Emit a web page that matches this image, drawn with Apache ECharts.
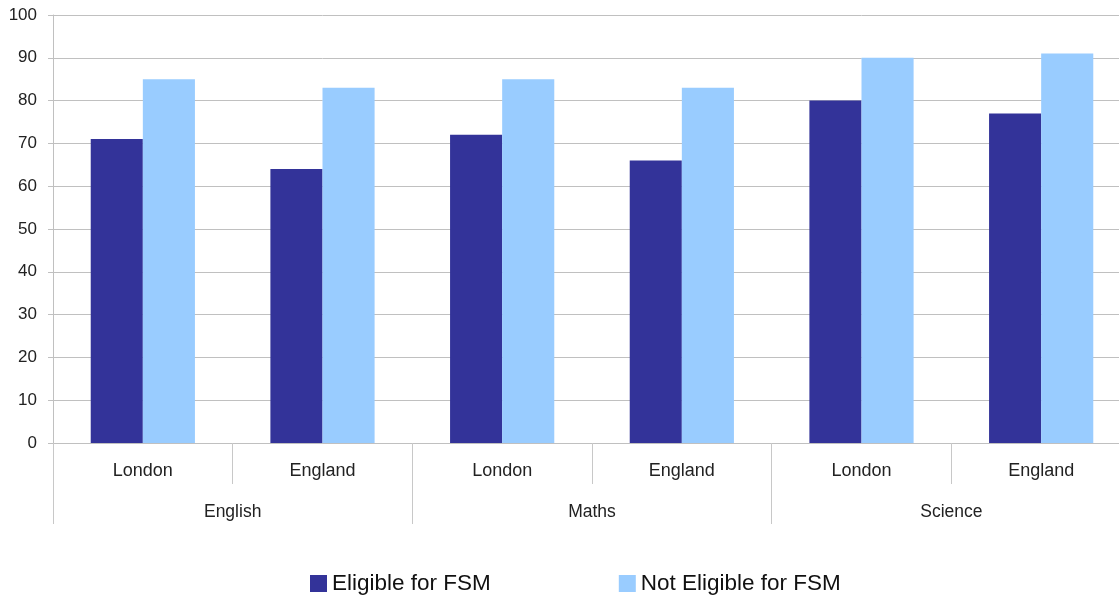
<!DOCTYPE html>
<html><head><meta charset="utf-8">
<script src="https://cdn.jsdelivr.net/npm/echarts@6/dist/echarts.min.js"></script>
<style>html,body{margin:0;padding:0;background:#fff;overflow:hidden;width:1119px;height:598px}#c{width:1131px;height:598px}</style>
</head><body><div id="c"></div>
<script>
const areas = ['London', 'England', 'London', 'England', 'London', 'England'];
const subjects = ['English', 'Maths', 'Science'];
const eligible = [71, 64, 72, 66, 80, 77];
const notEligible = [85, 83, 85, 83, 90, 91];
const yTicks = [0, 10, 20, 30, 40, 50, 60, 70, 80, 90, 100];

const FONT = 'Liberation Sans';
const chart = echarts.init(document.getElementById('c'));
chart.setOption({
  animation: false,
  textStyle: { fontFamily: FONT },
  grid: { left: 53, right: 0, top: 15, bottom: 155, containLabel: false },
  legend: {
    data: ['Eligible for FSM', 'Not Eligible for FSM'],
    left: 305, top: 567,
    itemWidth: 17, itemHeight: 17, itemGap: 128,
    icon: 'rect',
    textStyle: { fontSize: 22.5, color: '#111', fontFamily: FONT }
  },
  xAxis: [{
    type: 'category', data: areas, position: 'bottom',
    axisLine: { show: true, lineStyle: { color: '#c0c0c0' } },
    axisTick: { show: true, length: 41, interval: 0, alignWithLabel: false, lineStyle: { color: '#c8c8c8' } },
    axisLabel: { margin: 19, fontSize: 18, color: '#222', interval: 0 }
  }, {
    type: 'category', data: subjects, position: 'bottom', offset: 0,
    axisLine: { show: false },
    axisTick: { show: true, length: 81, interval: 0, alignWithLabel: false, lineStyle: { color: '#c8c8c8' } },
    axisLabel: { margin: 60, fontSize: 17.5, color: '#222', interval: 0 }
  }],
  yAxis: {
    type: 'value', min: yTicks[0], max: yTicks[yTicks.length - 1], interval: 10,
    axisLine: { show: true, lineStyle: { color: '#c0c0c0' } },
    axisTick: { show: true, length: 5, lineStyle: { color: '#c0c0c0' } },
    axisLabel: { fontSize: 17, color: '#222', margin: 16 },
    splitLine: { lineStyle: { color: '#c0c0c0' } }
  },
  series: [{
    name: 'Eligible for FSM', type: 'bar', data: eligible,
    itemStyle: { color: '#333399' }, barGap: '0%', barCategoryGap: '42%'
  }, {
    name: 'Not Eligible for FSM', type: 'bar', data: notEligible,
    itemStyle: { color: '#99ccff' }, barGap: '0%', barCategoryGap: '42%'
  }]
});
</script></body></html>
